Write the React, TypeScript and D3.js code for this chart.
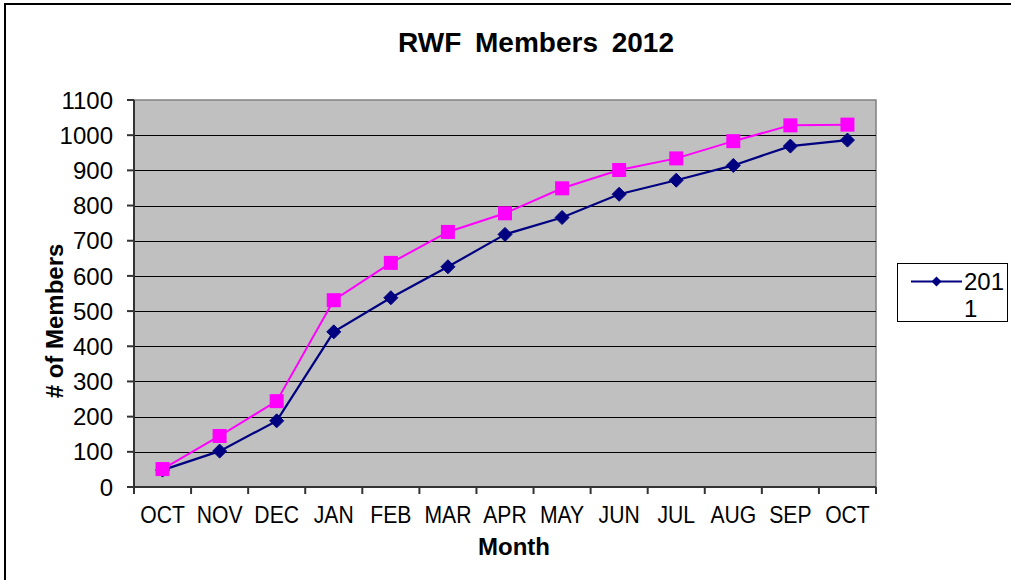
import React from "react";
import * as d3 from "d3";

const months = ["OCT", "NOV", "DEC", "JAN", "FEB", "MAR", "APR", "MAY", "JUN", "JUL", "AUG", "SEP", "OCT"];
const members2011 = [48, 102, 188, 441, 538, 626, 718, 766, 832, 872, 914, 969, 986];
const members2012 = [51, 145, 244, 531, 637, 725, 778, 849, 901, 934, 983, 1028, 1030];
const yTicks = [0, 100, 200, 300, 400, 500, 600, 700, 800, 900, 1000, 1100];
const legendLabel = ["201", "1"];
const titleText = "RWF Members 2012";
const xTitle = "Month";
const yTitle = "# of Members";

const W = 1011;
const H = 580;
const plot = { left: 134, right: 876, top: 100, bottom: 487 };
const FONT = "'Liberation Sans', Arial, sans-serif";

export default function App() {
  const idx = months.map((_, i) => i);
  const x = d3.scaleBand<number>().domain(idx).range([plot.left, plot.right]).padding(0);
  const y = d3.scaleLinear().domain([0, 1100]).range([plot.bottom, plot.top]);
  const cx = (i: number) => (x(i) as number) + x.bandwidth() / 2;

  const line = d3
    .line<number>()
    .x((_, i) => cx(i))
    .y((d) => y(d));

  const diamond = (px: number, py: number, r: number) =>
    `M${px},${py - r}L${px + r},${py}L${px},${py + r}L${px - r},${py}Z`;

  const xTickPos = d3.range(months.length + 1).map((i) =>
    i < months.length ? (x(i) as number) : plot.right
  );

  return (
    <svg
      width={W}
      height={H}
      style={{ position: "absolute", left: 0, top: 0, background: "#fff" }}
      fontFamily={FONT}
    >
      <rect x={0} y={0} width={W} height={H} fill="#fff" />
      {/* outer chart frame */}
      <path d={`M5,${H} V4 H${W}`} fill="none" stroke="#000" strokeWidth={2} />

      {/* title */}
      <text x={536} y={52} textAnchor="middle" fontSize={28} fontWeight="bold" fill="#000" wordSpacing={6}>
        {titleText}
      </text>

      {/* plot area */}
      <rect
        x={plot.left}
        y={plot.top}
        width={plot.right - plot.left}
        height={plot.bottom - plot.top}
        fill="#C0C0C0"
        stroke="#808080"
        strokeWidth={1.5}
      />

      {/* gridlines */}
      {yTicks.slice(1, -1).map((t) => (
        <line
          key={"g" + t}
          x1={plot.left}
          x2={plot.right}
          y1={Math.round(y(t)) + 0.5}
          y2={Math.round(y(t)) + 0.5}
          stroke="#000"
          strokeWidth={1.2}
        />
      ))}

      {/* axes */}
      <line x1={plot.left} x2={plot.left} y1={plot.top} y2={plot.bottom} stroke="#333" strokeWidth={2} />
      <line x1={plot.left} x2={plot.right} y1={plot.bottom} y2={plot.bottom} stroke="#333" strokeWidth={2} />

      {/* y ticks and labels */}
      {yTicks.map((t) => (
        <g key={"y" + t}>
          <line x1={plot.left - 7} x2={plot.left} y1={y(t)} y2={y(t)} stroke="#333" strokeWidth={2} />
          <text x={113} y={y(t)} dy="0.36em" textAnchor="end" fontSize={24} fill="#000">
            {t}
          </text>
        </g>
      ))}

      {/* x ticks */}
      {xTickPos.map((px, i) => (
        <line key={"xt" + i} x1={px} x2={px} y1={plot.bottom} y2={plot.bottom + 7} stroke="#333" strokeWidth={2} />
      ))}
      {months.map((m, i) => (
        <text
          key={"xl" + i}
          transform={`translate(${cx(i)},523) scale(0.92,1)`}
          textAnchor="middle"
          fontSize={23}
          fill="#000"
        >
          {m}
        </text>
      ))}

      {/* axis titles */}
      <text x={514} y={555} textAnchor="middle" fontSize={24} fontWeight="bold" fill="#000">
        {xTitle}
      </text>
      <text
        transform={`translate(63,321) rotate(-90)`}
        textAnchor="middle"
        fontSize={24}
        fontWeight="bold"
        fill="#000"
      >
        {yTitle}
      </text>

      {/* series 2011 (navy, diamonds) */}
      <path d={line(members2011) || ""} fill="none" stroke="#000080" strokeWidth={2.2} />
      {members2011.map((v, i) => (
        <path key={"d" + i} d={diamond(cx(i), y(v), 7)} fill="#000080" stroke="#000080" strokeWidth={1} />
      ))}

      {/* series 2012 (magenta, squares) */}
      <path d={line(members2012) || ""} fill="none" stroke="#FF00FF" strokeWidth={2} />
      {members2012.map((v, i) => (
        <rect key={"s" + i} x={cx(i) - 7} y={y(v) - 7} width={14} height={14} fill="#FF00FF" />
      ))}

      {/* legend */}
      <rect x={897.5} y={263.5} width={110} height={58} fill="#fff" stroke="#000" strokeWidth={1} />
      <line x1={911} x2={962} y1={281.5} y2={281.5} stroke="#000080" strokeWidth={2.2} />
      <path d={diamond(936.5, 281.5, 5)} fill="#000080" />
      <text x={964} y={290} fontSize={24} fill="#000">
        {legendLabel[0]}
      </text>
      <text x={964} y={317} fontSize={24} fill="#000">
        {legendLabel[1]}
      </text>
    </svg>
  );
}
